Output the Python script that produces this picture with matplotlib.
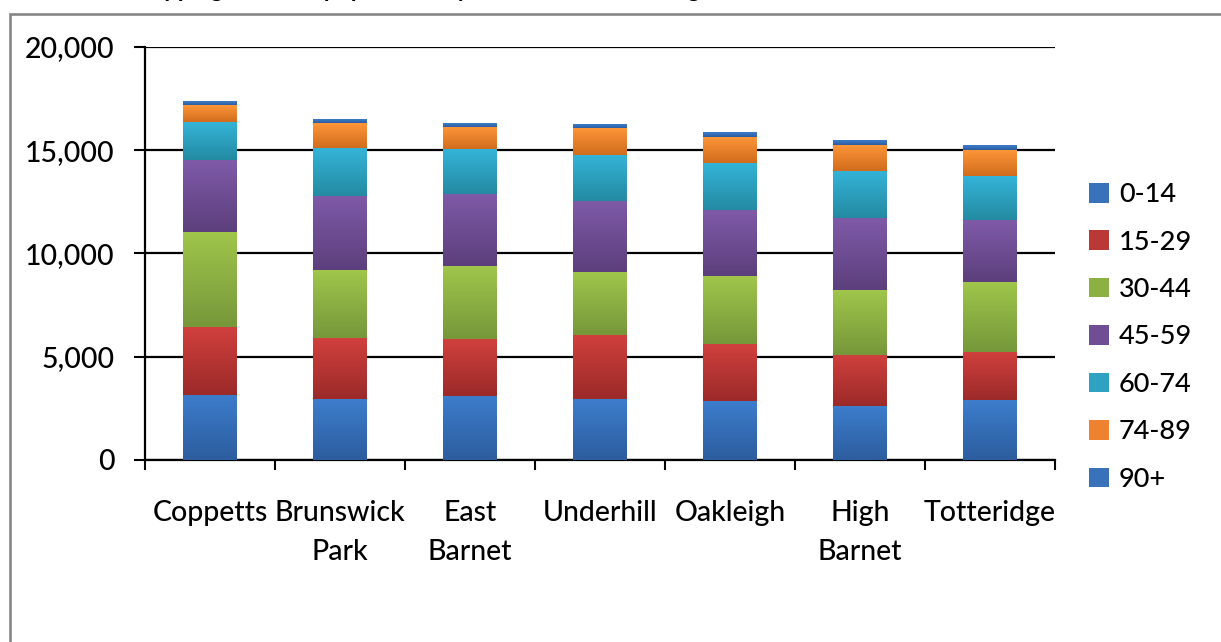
import matplotlib
matplotlib.use("Agg")
import matplotlib.pyplot as plt
import numpy as np
from matplotlib.colors import LinearSegmentedColormap
from matplotlib.patches import Rectangle, Patch
from matplotlib.ticker import FuncFormatter, FixedLocator

plt.rcParams['font.family'] = ['Lato', 'DejaVu Sans']
plt.rcParams['font.weight'] = 'medium'

title = "Mapping the local population by electoral ward and age"
wards = ["Coppetts", "Brunswick\nPark", "East\nBarnet", "Underhill", "Oakleigh", "High\nBarnet", "Totteridge"]
age_groups = ["0-14", "15-29", "30-44", "45-59", "60-74", "74-89", "90+"]

age_0_14 = [3150, 2950, 3100, 2950, 2850, 2610, 2900]
age_15_29 = [3290, 2950, 2760, 3100, 2760, 2470, 2320]
age_30_44 = [4600, 3290, 3530, 3050, 3290, 3150, 3390]
age_45_59 = [3480, 3610, 3500, 3440, 3190, 3480, 3000]
age_60_74 = [1840, 2290, 2160, 2230, 2270, 2280, 2130]
age_74_89 = [820, 1210, 1070, 1310, 1260, 1260, 1260]
age_90_plus = [150, 190, 160, 190, 240, 240, 240]

series = [age_0_14, age_15_29, age_30_44, age_45_59, age_60_74, age_74_89, age_90_plus]

# (top colour, bottom colour) of each gradient fill
grad_colors = [
    ("#3D7DCC", "#2C5D9E"),
    ("#D0403D", "#9B2A29"),
    ("#A0C64B", "#76973A"),
    ("#7F5AA8", "#5C3F7C"),
    ("#34B4D8", "#248AA2"),
    ("#FF9639", "#D06C1D"),
    ("#3D7DCC", "#2C5D9E"),
]
mid_colors = ["#3A72BA", "#BA3835", "#8DB043", "#6F4E94", "#2EA2C0", "#EE8230", "#3A72BA"]

W, H = 1221, 642
fig = plt.figure(figsize=(W / 100, H / 100), dpi=100)
ax = fig.add_axes([145 / W, 1 - 460 / H, (1055 - 145) / W, (460 - 47) / H])

# chart area border
fig.patches.append(Rectangle((10 / W, -0.2), 1.2, 1.2 - 14 / H, transform=fig.transFigure,
                             fill=False, edgecolor="#868686", linewidth=1.9, zorder=0))

x = np.arange(len(wards))
bottoms = np.zeros(len(wards))
grad = np.linspace(0, 1, 256).reshape(-1, 1)
for vals, (ctop, cbot), cm in zip(series, grad_colors, mid_colors):
    bars = ax.bar(x, vals, bottom=bottoms, width=0.41, color=cm, edgecolor='none', zorder=2)
    cmap = LinearSegmentedColormap.from_list("g", [cbot, ctop])
    for b in bars:
        x0, y0, w, h = b.get_x(), b.get_y(), b.get_width(), b.get_height()
        ax.imshow(grad, extent=[x0, x0 + w, y0, y0 + h], aspect='auto', cmap=cmap,
                  origin='lower', zorder=3, interpolation='bilinear')
    bottoms = bottoms + np.array(vals)

ax.set_xlim(-0.5, len(wards) - 0.5)
ax.set_ylim(0, 20000)
ax.set_aspect('auto')

ax.set_yticks([0, 5000, 10000, 15000, 20000])
ax.yaxis.set_major_formatter(FuncFormatter(lambda v, p: f"{int(v):,}"))
ax.yaxis.grid(True, color='black', linewidth=1.6, zorder=1)
ax.set_axisbelow(True)

ax.set_xticks(x)
ax.set_xticklabels(wards, linespacing=1.62)
ax.xaxis.set_minor_locator(FixedLocator(np.arange(-0.5, len(wards), 1.0)))
ax.tick_params(axis='x', which='major', length=0, pad=29, labelsize=20.5)
ax.tick_params(axis='x', which='minor', length=7.5, width=1.5, direction='out')
ax.tick_params(axis='y', which='major', length=8, width=1.5, direction='out', pad=14, labelsize=20.5)

for s in ['top', 'right']:
    ax.spines[s].set_visible(False)
for s in ['left', 'bottom']:
    ax.spines[s].set_linewidth(1.6)
    ax.spines[s].set_color('black')

handles = [Patch(facecolor=c, edgecolor='none') for c in mid_colors]
fig.legend(handles, age_groups, loc='center left', bbox_to_anchor=(1089 / W, 1 - 337 / H),
           frameon=False, fontsize=19.5, handlelength=0.75, handleheight=0.75,
           handletextpad=0.35, labelspacing=0.83, borderpad=0, borderaxespad=0)

fig.text(130 / W, 1 + 3.4 / H, title, ha='left', va='baseline', fontsize=17, fontweight='bold')

fig.savefig("out.png", dpi=100)
